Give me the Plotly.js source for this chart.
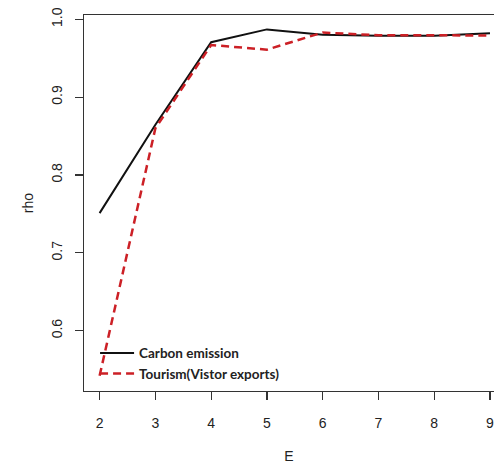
<!DOCTYPE html>
<html>
<head>
<meta charset="utf-8">
<script src="https://cdn.plot.ly/plotly-3.0.1.min.js"></script>
<style>html,body{margin:0;padding:0;background:#fff;}#chart{width:494px;height:465px;}</style>
</head>
<body>
<div id="chart"></div>
<script>
var E = [2, 3, 4, 5, 6, 7, 8, 9];
var carbonEmission = [0.751, 0.8645, 0.9705, 0.987, 0.980, 0.979, 0.979, 0.982];
var tourismVisitorExports = [0.542, 0.860, 0.967, 0.961, 0.983, 0.9795, 0.9795, 0.979];
var xTicks = [2, 3, 4, 5, 6, 7, 8, 9];
var yTicks = [0.6, 0.7, 0.8, 0.9, 1.0];
var yTickText = ['0.6', '0.7', '0.8', '0.9', '1.0'];

var traces = [
  {x: E, y: carbonEmission, type: 'scatter', mode: 'lines', name: 'Carbon emission',
   line: {color: '#111111', width: 2}},
  {x: E, y: tourismVisitorExports, type: 'scatter', mode: 'lines', name: 'Tourism(Vistor exports)',
   line: {color: '#cc2026', width: 2.5, dash: '8px,5px'}}
];

var layout = {
  width: 494, height: 465,
  margin: {l: 84, r: 0, t: 15, b: 74, pad: 0},
  paper_bgcolor: '#ffffff', plot_bgcolor: '#ffffff',
  font: {family: '"Liberation Sans", Arial, sans-serif', size: 14, color: '#222'},
  showlegend: true,
  legend: {x: 0.027, y: 0.142, xanchor: 'left', yanchor: 'top', bgcolor: 'rgba(0,0,0,0)',
           borderwidth: 0, itemwidth: 34,
           font: {family: 'Lato, sans-serif', size: 13.5, color: '#222', weight: 'bold'},
           tracegroupgap: 0},
  xaxis: {
    range: [1.72, 9.072], tickvals: xTicks, ticktext: xTicks.map(String),
    showgrid: false, zeroline: false, showline: true, mirror: true, linecolor: '#333', linewidth: 1.3,
    ticks: 'outside', ticklen: 8, tickcolor: '#333', tickwidth: 1.2, ticklabelstandoff: 11,
    ticklabeloverflow: 'allow',
    tickfont: {size: 14, color: '#222'},
    title: {text: 'E', font: {size: 14, color: '#222'}, standoff: 21}
  },
  yaxis: {
    range: [0.5225, 1.0055], tickvals: yTicks, ticktext: yTickText,
    showgrid: false, zeroline: false, showline: true, mirror: false, linecolor: '#333', linewidth: 1.3,
    ticks: 'outside', ticklen: 8, tickcolor: '#333', tickwidth: 1.2, tickangle: -90, ticklabelstandoff: 7,
    tickfont: {size: 14, color: '#222'},
    title: {text: 'rho', font: {size: 14, color: '#222'}, standoff: 12}
  }
};

Plotly.newPlot('chart', traces, layout, {displayModeBar: false, staticPlot: true});
</script>
</body>
</html>
